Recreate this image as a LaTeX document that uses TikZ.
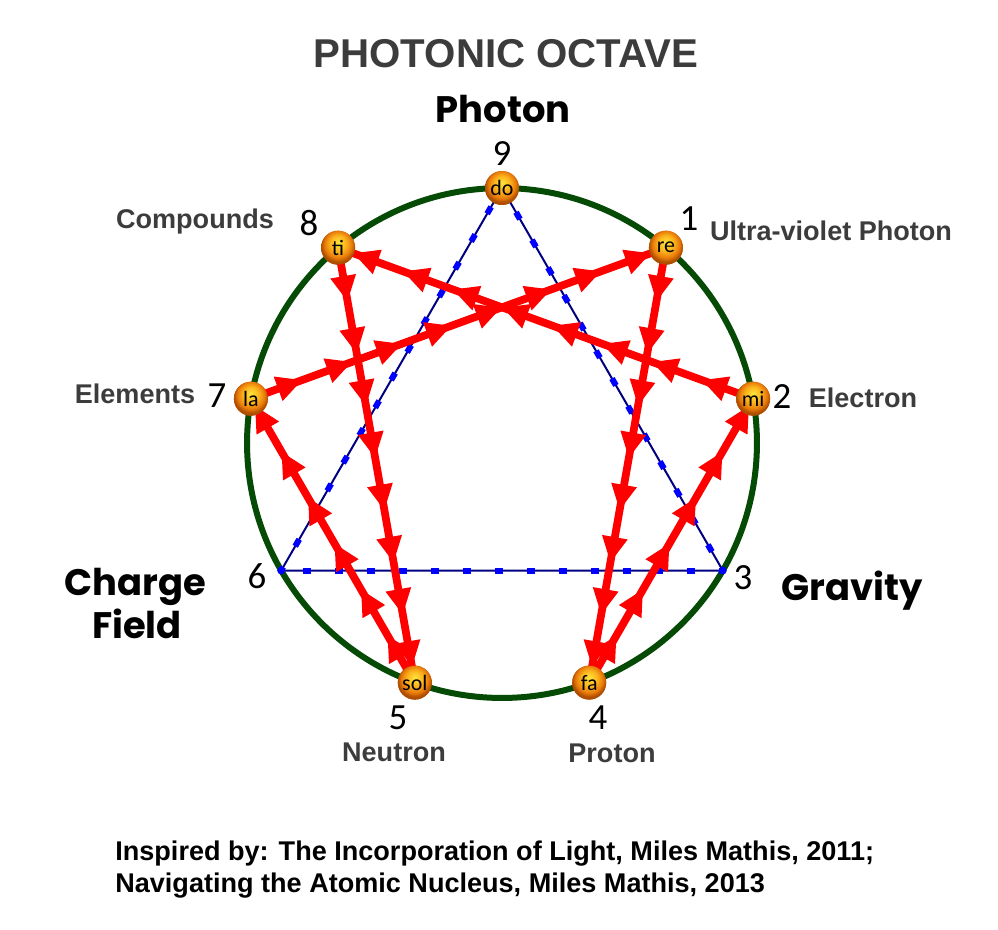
\documentclass[tikz,border=0pt]{standalone}
\usepackage{fontspec}
\setmainfont{Liberation Sans}
\newfontfamily\numfont{Carlito}
\newfontfamily\brushfont{Poppins}
\usetikzlibrary{arrows.meta,decorations.markings}
\definecolor{labelgray}{RGB}{60,60,60}
\definecolor{circgreen}{RGB}{5,75,5}
\definecolor{triline}{RGB}{0,0,128}
\definecolor{orbA}{RGB}{255,228,60}
\definecolor{orbB}{RGB}{252,178,28}
\definecolor{orbC}{RGB}{232,122,10}
\definecolor{orbD}{RGB}{175,78,0}
\pgfdeclareradialshading{orb}{\pgfqpoint{0bp}{8bp}}{color(0bp)=(orbA); color(12bp)=(orbB); color(20bp)=(orbC); color(25bp)=(orbD); color(50bp)=(orbD)}
\tikzset{
  orbnode/.style={circle, minimum size=0.68cm, inner sep=0pt, shade, shading=orb,
    font=\numfont\fontsize{12.5}{13}\selectfont},
  hexline/.style={draw=red, line width=0.155cm, line join=round, postaction={decorate},
    decoration={markings, mark=between positions 1.1cm and -0.1cm step 1.06cm with
      {\arrow{Triangle[length=0.52cm,width=0.48cm]}}}},
  triangleline/.style={draw=triline, line width=0.04cm},
  bluedash/.style={draw=blue, line width=0.12cm, dash pattern=on 0.16cm off 0.48cm, dash phase=0.08cm},
  lab/.style={font=\bfseries\fontsize{15.4}{18}\selectfont, text=labelgray, anchor=base, inner sep=0pt},
  num/.style={font=\numfont\fontsize{21}{24}\selectfont, anchor=base, inner sep=0pt},
  brush/.style={font=\brushfont\bfseries\fontsize{21}{24}\selectfont, anchor=base, inner sep=0pt},
  foot/.style={font=\bfseries\fontsize{15.4}{18}\selectfont, anchor=base west, inner sep=0pt},
}
\begin{document}
\begin{tikzpicture}[x=0.02cm, y=-0.02cm]
\useasboundingbox (0,0) rectangle (998,930);
\fill[white] (0,0) rectangle (998,930);
% enneagram circle
\coordinate (c) at (502,443);
\draw[circgreen, line width=0.12cm] (c) circle[radius=5.1cm];
% ball positions
\coordinate (p3) at (722.8,570.5);
\coordinate (p6) at (281.2,570.5);
\node[orbnode] (do)  at (502,188) {do};
\node[orbnode] (re)  at (665.9,247.7) {re};
\node[orbnode] (mi)  at (753.1,398.7) {mi};
\node[orbnode] (fa)  at (589.2,682.6) {fa};
\node[orbnode] (sol) at (414.8,682.6) {sol};
\node[orbnode] (la)  at (250.9,398.7) {la};
\node[orbnode] (ti)  at (338.1,247.7) {ti};
% triangle 9-3-6
\draw[triangleline] (do.center) -- (p3) -- (p6) -- cycle;
\draw[bluedash] (do.center) -- (p3);
\draw[bluedash] (p3) -- (p6);
\draw[bluedash] (p6) -- (do.center);
\fill[blue] (p3) circle[radius=0.08cm];
\fill[blue] (p6) circle[radius=0.08cm];
% hexad 1-4-2-8-5-7-1
\draw[hexline] (re.center) -- (fa.center);
\draw[hexline] (fa.center) -- (mi.center);
\draw[hexline] (mi.center) -- (ti.center);
\draw[hexline] (ti.center) -- (sol.center);
\draw[hexline] (sol.center) -- (la.center);
\draw[hexline] (la.center) -- (re.center);
% redraw balls on top
\node[orbnode] (do2)  at (do)  {do};
\node[orbnode] (re2)  at (re)  {re};
\node[orbnode] (mi2)  at (mi)  {mi};
\node[orbnode] (fa2)  at (fa)  {fa};
\node[orbnode] (sol2) at (sol) {sol};
\node[orbnode] (la2)  at (la)  {la};
\node[orbnode] (ti2)  at (ti)  {ti};
% numbers
\node[num] (n9) at (502,165) {9};
\node[num] (n1) at (689,230) {1};
\node[num] (n2) at (782,408) {2};
\node[num] (n3) at (743,589) {3};
\node[num] (n4) at (598,729) {4};
\node[num] (n5) at (398,729) {5};
\node[num] (n6) at (257,588) {6};
\node[num] (n7) at (217,407) {7};
\node[num] (n8) at (309,235) {8};
% labels
\node[lab] (comp) at (195,228) {Compounds};
\node[lab] (elem) at (135,403) {Elements};
\node[lab] (uv)   at (831,240) {Ultra-violet Photon};
\node[lab] (elec) at (863,407) {Electron};
\node[lab] (neut) at (394,761) {Neutron};
\node[lab] (prot) at (612,762) {Proton};
% title and brush labels
\node[font=\bfseries\fontsize{22.9}{26}\selectfont, text=labelgray, anchor=base, inner sep=0pt] (title) at (506,67) {PHOTONIC OCTAVE};
\node[brush] (photon) at (503,122) {Photon};
\node[brush] (charge) at (135,595) {Charge};
\node[brush] (field)  at (137,638) {Field};
\node[brush] (grav)   at (852,600) {Gravity};
% footer
\node[foot] (f1) at (115,860) {Inspired by: The Incorporation of Light, Miles Mathis, 2011;};
\node[foot] (f2) at (115,892) {Navigating the Atomic Nucleus, Miles Mathis, 2013};
\end{tikzpicture}
\end{document}
